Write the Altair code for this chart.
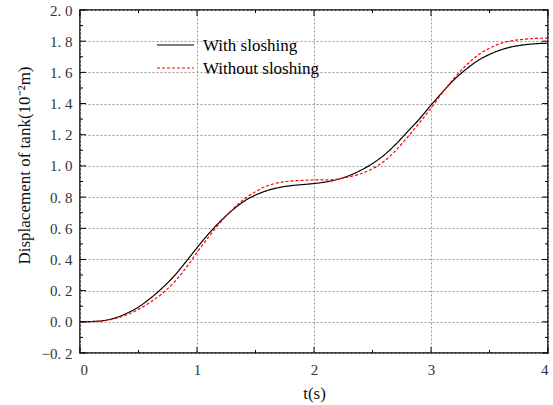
import altair as alt
import pandas as pd

t = [0.0, 0.1, 0.2, 0.3, 0.4, 0.5, 0.6, 0.7, 0.8, 0.9, 1.0, 1.1, 1.2, 1.3, 1.4, 1.5, 1.6, 1.7, 1.8, 1.9,
     2.0, 2.1, 2.2, 2.3, 2.4, 2.5, 2.6, 2.7, 2.8, 2.9, 3.0, 3.1, 3.2, 3.3, 3.4, 3.5, 3.6, 3.7, 3.8, 3.9, 4.0]
with_sloshing = [0.0, 0.002, 0.008, 0.025, 0.055, 0.095, 0.15, 0.215, 0.29, 0.38, 0.475, 0.565, 0.645, 0.715,
                 0.772, 0.813, 0.842, 0.861, 0.873, 0.88, 0.887, 0.897, 0.913, 0.938, 0.972, 1.015, 1.07,
                 1.14, 1.22, 1.30, 1.39, 1.475, 1.555, 1.62, 1.675, 1.715, 1.745, 1.765, 1.777, 1.784, 1.787]
without_sloshing = [0.0, 0.001, 0.006, 0.02, 0.045, 0.08, 0.125, 0.18, 0.25, 0.34, 0.445, 0.545, 0.638, 0.718,
                    0.785, 0.835, 0.872, 0.893, 0.903, 0.907, 0.91, 0.91, 0.915, 0.93, 0.95, 0.982, 1.03,
                    1.10, 1.185, 1.275, 1.37, 1.472, 1.565, 1.645, 1.71, 1.755, 1.787, 1.804, 1.813, 1.818, 1.82]
series_names = ["With sloshing", "Without sloshing"]
x_major = [0, 1, 2, 3, 4]
x_minor = [0.5, 1.5, 2.5, 3.5]
y_major = [-0.2, 0.0, 0.2, 0.4, 0.6, 0.8, 1.0, 1.2, 1.4, 1.6, 1.8, 2.0]
y_minor = [-0.1, 0.1, 0.3, 0.5, 0.7, 0.9, 1.1, 1.3, 1.5, 1.7, 1.9]

W, H = 468, 343
FONT = "Liberation Serif"

df = pd.concat([
    pd.DataFrame({"t": t, "v": with_sloshing, "s": series_names[0]}),
    pd.DataFrame({"t": t, "v": without_sloshing, "s": series_names[1]}),
])

xs = alt.Scale(domain=[0, 4], nice=False, zero=False)
ys = alt.Scale(domain=[-0.2, 2.0], nice=False, zero=False)

label_expr = "replace(format(datum.value, '.1f'), '.', '. ')"

common = dict(grid=True, gridDash=[2, 2], gridColor="#999", gridWidth=1, ticks=False, domain=False,
              labelFont=FONT, labelFontSize=15, labelColor="#333",
              titleFont=FONT, titleFontSize=17, titleFontWeight="normal", titleColor="#111")

x_axis = alt.Axis(values=x_major, title="t(s)", labelPadding=9, titlePadding=8, **common)
y_axis = alt.Axis(values=y_major, title="Displacement of tank(10⁻²m)", labelExpr=label_expr,
                  labelPadding=8, titleX=-56, titleY=155, titleAngle=270,
                  titleAlign="center", titleBaseline="middle", **common)

lines = alt.Chart(df).mark_line(strokeWidth=1.2, interpolate="monotone").encode(
    x=alt.X("t:Q", scale=xs, axis=x_axis),
    y=alt.Y("v:Q", scale=ys, axis=y_axis),
    color=alt.Color("s:N", scale=alt.Scale(domain=series_names, range=["black", "red"]), legend=None),
    strokeDash=alt.StrokeDash("s:N", scale=alt.Scale(domain=series_names, range=[[1, 0], [3, 2]]), legend=None),
)

def xticks(vals, length):
    d = pd.DataFrame({"t": vals})
    b = alt.Chart(d).mark_rule(color="black", strokeWidth=1).encode(
        x=alt.X("t:Q", scale=xs, axis=x_axis), y=alt.value(H), y2=alt.value(H - length))
    tp = alt.Chart(d).mark_rule(color="black", strokeWidth=1).encode(
        x=alt.X("t:Q", scale=xs, axis=x_axis), y=alt.value(0), y2=alt.value(length))
    return [b, tp]

def yticks(vals, length):
    d = pd.DataFrame({"v": vals})
    l = alt.Chart(d).mark_rule(color="black", strokeWidth=1).encode(
        y=alt.Y("v:Q", scale=ys, axis=y_axis), x=alt.value(0), x2=alt.value(length))
    r = alt.Chart(d).mark_rule(color="black", strokeWidth=1).encode(
        y=alt.Y("v:Q", scale=ys, axis=y_axis), x=alt.value(W), x2=alt.value(W - length))
    return [l, r]

tick_layers = xticks(x_major, 6) + xticks(x_minor, 3) + yticks(y_major, 6) + yticks(y_minor, 3)

leg_df = pd.DataFrame({"s": series_names})
leg_black = alt.Chart(leg_df.iloc[[0]]).mark_rule(color="black", strokeWidth=1.2).encode(
    x=alt.value(77), x2=alt.value(114), y=alt.value(35))
leg_red = alt.Chart(leg_df.iloc[[1]]).mark_rule(color="red", strokeWidth=1.2, strokeDash=[3, 2]).encode(
    x=alt.value(77), x2=alt.value(114), y=alt.value(58))
leg_t1 = alt.Chart(leg_df.iloc[[0]]).mark_text(align="left", baseline="middle", font=FONT, fontSize=17,
                                              color="black").encode(
    x=alt.value(123), y=alt.value(36), text="s:N")
leg_t2 = alt.Chart(leg_df.iloc[[1]]).mark_text(align="left", baseline="middle", font=FONT, fontSize=17,
                                              color="black").encode(
    x=alt.value(123), y=alt.value(59), text="s:N")

chart = alt.layer(lines, *tick_layers, leg_black, leg_red, leg_t1, leg_t2).properties(
    width=W, height=H,
    background="white",
    autosize=alt.AutoSizeParams(type="none"),
    padding={"left": 80, "top": 10, "right": 5, "bottom": 52},
).configure(font=FONT).configure_view(stroke="black", strokeWidth=1.5)

chart.save("out.html", embed_options={"renderer": "svg", "actions": False})
